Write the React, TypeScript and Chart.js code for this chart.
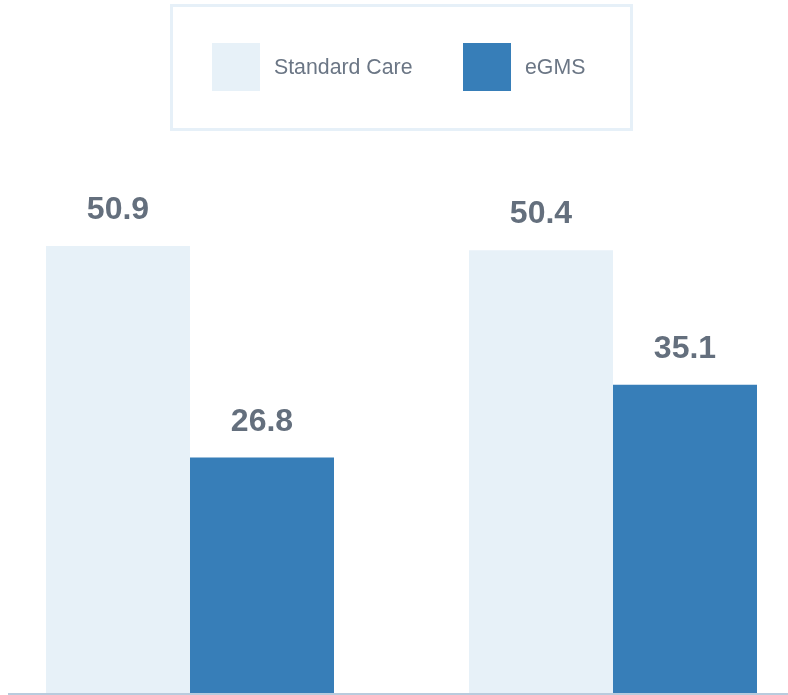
import React, { useEffect, useRef } from 'react';
import { Chart, registerables } from 'chart.js';

Chart.register(...registerables);

const categories = ['Measure 1', 'Measure 2'];
const seriesNames = ['Standard Care', 'eGMS'];
const standardCareValues = [50.9, 50.4];
const egmsValues = [26.8, 35.1];
const seriesColors = ['#e7f1f8', '#377eb8'];
const yMin = 0;
const yMax = 60;

const FONT = '"Liberation Sans", Arial, Helvetica, sans-serif';
const LEGEND_SWATCH_X = [212, 463];

const decorPlugin = {
  id: 'decor',
  afterDatasetsDraw(chart: any) {
    const ctx = chart.ctx;
    const yScale = chart.scales.y;
    ctx.save();
    ctx.font = `bold 32px ${FONT}`;
    ctx.fillStyle = '#646f7d';
    ctx.textAlign = 'center';
    ctx.textBaseline = 'alphabetic';
    chart.data.datasets.forEach((ds: any, di: number) => {
      const meta = chart.getDatasetMeta(di);
      meta.data.forEach((bar: any, i: number) => {
        const v = ds.data[i];
        ctx.fillText(v.toFixed(1), bar.x, bar.y - 27);
      });
    });
    const y0 = yScale.getPixelForValue(0);
    ctx.fillStyle = 'rgba(100,140,180,0.45)';
    ctx.fillRect(8, Math.round(y0), chart.width - 8, 2);
    ctx.restore();
  },
  afterDraw(chart: any) {
    const ctx = chart.ctx;
    ctx.save();
    ctx.strokeStyle = '#e6f0f8';
    ctx.lineWidth = 3;
    ctx.strokeRect(171.5, 5.5, 460, 124);
    ctx.font = `21.3px ${FONT}`;
    ctx.textAlign = 'left';
    ctx.textBaseline = 'middle';
    const top = 43;
    const box = 48;
    chart.data.datasets.forEach((ds: any, i: number) => {
      const x = LEGEND_SWATCH_X[i];
      ctx.fillStyle = ds.backgroundColor;
      ctx.fillRect(x, top, box, box);
      ctx.fillStyle = '#6b7685';
      ctx.fillText(ds.label, x + box + 14, top + box / 2 + 1);
    });
    ctx.restore();
  },
};

export default function App() {
  const canvasRef = useRef<HTMLCanvasElement | null>(null);

  useEffect(() => {
    if (!canvasRef.current) return;
    const chart = new Chart(canvasRef.current, {
      type: 'bar',
      data: {
        labels: categories,
        datasets: [
          {
            label: seriesNames[0],
            data: standardCareValues,
            backgroundColor: seriesColors[0],
            clip: false as any,
          },
          {
            label: seriesNames[1],
            data: egmsValues,
            backgroundColor: seriesColors[1],
            clip: false as any,
          },
        ],
      },
      options: {
        animation: false,
        responsive: true,
        maintainAspectRatio: false,
        layout: { padding: { left: 190, right: 175, top: 166, bottom: 2 } },
        datasets: {
          bar: { categoryPercentage: 288 / 423, barPercentage: 1, borderWidth: 0 },
        },
        plugins: {
          legend: { display: false },
          tooltip: { enabled: false },
        },
        scales: {
          x: { display: false, offset: false, grid: { display: false } },
          y: { display: false, min: yMin, max: yMax, grid: { display: false } },
        },
      },
      plugins: [decorPlugin],
    });
    return () => chart.destroy();
  }, []);

  return (
    <div style={{ position: 'absolute', left: 0, top: 0, width: 788, height: 695, background: '#ffffff' }}>
      <canvas ref={canvasRef} />
    </div>
  );
}
